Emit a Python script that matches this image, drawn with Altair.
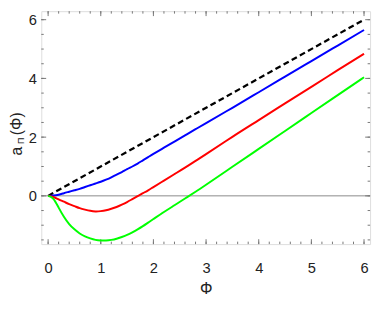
import altair as alt
import pandas as pd

# ---- data ----
phi = [0.0, 0.1, 0.2, 0.3, 0.4, 0.5, 0.6, 0.7, 0.8, 0.9, 1.0,
       1.1, 1.2, 1.3, 1.4, 1.5, 1.6, 1.7, 1.8, 1.9, 2.0,
       2.2, 2.4, 2.6, 2.8, 3.0, 3.5, 4.0, 4.5, 5.0, 5.5, 6.0]
blue = [0.0, 0.01, 0.04, 0.09, 0.14, 0.19, 0.24, 0.30, 0.36, 0.42, 0.48,
        0.55, 0.63, 0.72, 0.81, 0.91, 1.00, 1.10, 1.21, 1.32, 1.43,
        1.64, 1.85, 2.06, 2.27, 2.48, 3.00, 3.53, 4.06, 4.59, 5.12, 5.65]
red = [0.0, -0.04, -0.12, -0.20, -0.28, -0.35, -0.42, -0.47, -0.51, -0.53, -0.52,
       -0.49, -0.44, -0.38, -0.30, -0.21, -0.11, -0.01, 0.09, 0.19, 0.30,
       0.52, 0.74, 0.96, 1.19, 1.42, 2.01, 2.58, 3.15, 3.71, 4.28, 4.84]
green = [0.0, -0.10, -0.40, -0.71, -0.96, -1.14, -1.28, -1.38, -1.45, -1.50, -1.52,
         -1.52, -1.50, -1.46, -1.40, -1.33, -1.24, -1.14, -1.03, -0.91, -0.79,
         -0.55, -0.32, -0.09, 0.14, 0.38, 0.99, 1.60, 2.21, 2.82, 3.43, 4.04]
dash_phi = [0.0, 6.0]
dash_val = [0.0, 6.0]

x_labels = [0, 1, 2, 3, 4, 5, 6]
y_labels = [0, 2, 4, 6]
x_minor = [round(i * 0.2, 1) for i in range(0, 31)]
y_minor = [round(-1.5 + i * 0.5, 1) for i in range(0, 16)]

series_names = ["blue", "red", "green"]
series_colors = ["#0000ff", "#ff0000", "#00ff00"]

W, H = 336, 238
XDOM = [-0.13, 6.115]
YDOM = [-1.643, 6.29]
FONT = "Liberation Sans"

xs = alt.Scale(domain=XDOM, nice=False, zero=False)
ys = alt.Scale(domain=YDOM, nice=False, zero=False)

rows = []
for name, vals in zip(series_names, [blue, red, green]):
    for p, v in zip(phi, vals):
        rows.append({"phi": p, "a": v, "s": name})
df = pd.DataFrame(rows)
dash_df = pd.DataFrame({"phi": dash_phi, "a": dash_val})

xenc = alt.X("phi:Q", scale=xs, title="Φ",
             axis=alt.Axis(values=x_labels, format="d", ticks=False, domain=False, grid=False,
                           labelFont=FONT, labelFontSize=15, labelColor="#222",
                           labelPadding=17, titleFont=FONT, titleFontSize=16,
                           titleFontWeight="normal", titleColor="#222", titlePadding=6))
yenc = alt.Y("a:Q", scale=ys, title=None,
             axis=alt.Axis(values=y_labels, format="d", ticks=False, domain=False, grid=False,
                           labelFont=FONT, labelFontSize=15, labelColor="#222",
                           labelPadding=5))

zero = alt.Chart(pd.DataFrame({"a": [0.0]})).mark_rule(color="#888", strokeWidth=1).encode(
    y=alt.Y("a:Q", scale=ys, title=None))

lines = alt.Chart(df).mark_line(strokeWidth=2, interpolate="natural").encode(
    x=xenc, y=yenc,
    color=alt.Color("s:N", scale=alt.Scale(domain=series_names, range=series_colors), legend=None))

dashed = alt.Chart(dash_df).mark_line(color="black", strokeWidth=2.3, strokeDash=[6, 3.5]).encode(
    x=alt.X("phi:Q", scale=xs, title="Φ"), y=alt.Y("a:Q", scale=ys, title=None))

tick_col = "#777"
xmaj = pd.DataFrame({"phi": x_labels})
xmin_df = pd.DataFrame({"phi": x_minor})
ymaj = pd.DataFrame({"a": y_labels})
ymin_df = pd.DataFrame({"a": y_minor})

def xticks(d, top, ln):
    y0 = 0 if top else H
    y1 = ln if top else H - ln
    return alt.Chart(d).mark_rule(color=tick_col, strokeWidth=1).encode(
        x=alt.X("phi:Q", scale=xs, title="Φ"), y=alt.value(y0), y2=alt.value(y1))

def yticks(d, right, ln):
    x0 = W if right else 0
    x1 = W - ln if right else ln
    return alt.Chart(d).mark_rule(color=tick_col, strokeWidth=1).encode(
        y=alt.Y("a:Q", scale=ys, title=None), x=alt.value(x0), x2=alt.value(x1))

ticks = [xticks(xmin_df, False, 2.5), xticks(xmaj, False, 5),
         xticks(xmin_df, True, 2.5), xticks(xmaj, True, 5),
         yticks(ymin_df, False, 2.5), yticks(ymaj, False, 5),
         yticks(ymin_df, True, 2.5), yticks(ymaj, True, 5)]

title_df = pd.DataFrame({"t": ["a", "(Φ)"], "px": [-25, -25], "py": [143, 115]})
ytitle = alt.Chart(title_df).mark_text(angle=270, font=FONT, fontSize=16, color="#222",
                                       align="center", baseline="middle").encode(
    text="t:N", x=alt.X("px:Q", scale=None), y=alt.Y("py:Q", scale=None))
sub_df = pd.DataFrame({"t": ["Π"], "px": [-20.5], "py": [132.5]})
ysub = alt.Chart(sub_df).mark_text(angle=270, font=FONT, fontSize=9, color="#222",
                                   align="center", baseline="middle").encode(
    text="t:N", x=alt.X("px:Q", scale=None), y=alt.Y("py:Q", scale=None))

chart = alt.layer(zero, *ticks, dashed, lines, ytitle, ysub).properties(
    width=W, height=H,
    autosize=alt.AutoSizeParams(type="none"),
    padding={"left": 34, "top": 0, "right": 4, "bottom": 60},
).configure_view(stroke="#666", strokeWidth=1).configure(background="white")

chart.save("out.html", embed_options={"renderer": "svg", "actions": False})
